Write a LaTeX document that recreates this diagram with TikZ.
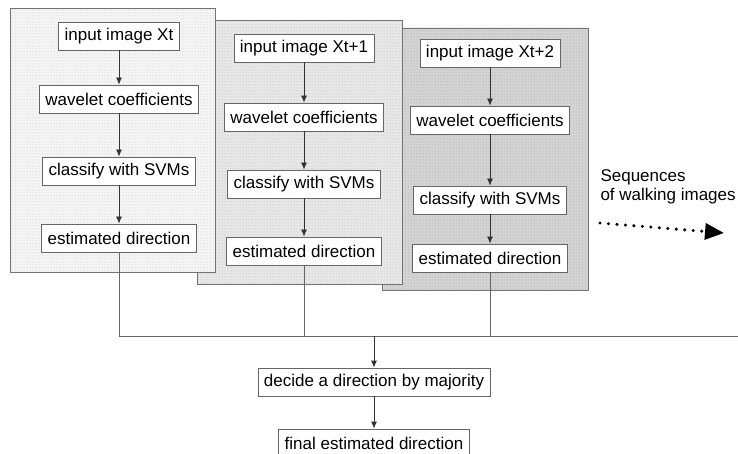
\documentclass[tikz,border=0pt]{standalone}
\usepackage{fontspec}
\setmainfont{Liberation Sans}
\usetikzlibrary{arrows.meta,patterns}
\tikzset{
  stage/.style={draw=black!60, fill=white, line width=0.8pt, font=\fontsize{17}{19}\selectfont, minimum height=28pt, inner xsep=6pt},
  panel/.style={draw=black!55, line width=0.8pt},
  flow/.style={draw=black!80, line width=0.8pt, -{Latex[length=7pt,width=6pt]}},
  bus/.style={draw=black!60, line width=0.8pt}
}

\begin{document}
\begin{tikzpicture}[x=1pt,y=-1pt]
\useasboundingbox (0,0) rectangle (738,454);
\clip (0,0) rectangle (738,454);

% the three frames, last one at the back
    \fill[black!17] (382,28) rectangle (588,290);
    \path[panel, pattern=dots, pattern color=black!40] (382,28) rectangle (588,290);
    \fill[black!9] (197,20) rectangle (402,284);
    \path[panel, pattern=dots, pattern color=black!32] (197,20) rectangle (402,284);
    \fill[black!4] (10,8) rectangle (215,272);
    \path[panel, pattern=dots, pattern color=black!26] (10,8) rectangle (215,272);

    \node[stage] (in1)  at (119,36)  {input image Xt};
    \node[stage] (wav1) at (119,99)  {wavelet coefficients};
    \node[stage] (cls1) at (119,171) {classify with SVMs};
    \node[stage] (est1) at (119,238) {estimated direction};

    \node[stage] (in2)  at (304,48)  {input image Xt+1};
    \node[stage] (wav2) at (304,117) {wavelet coefficients};
    \node[stage] (cls2) at (304,184) {classify with SVMs};
    \node[stage] (est2) at (304,251) {estimated direction};

    \node[stage] (in3)  at (490,53)  {input image Xt+2};
    \node[stage] (wav3) at (490,120) {wavelet coefficients};
    \node[stage] (cls3) at (490,200) {classify with SVMs};
    \node[stage] (est3) at (490,258) {estimated direction};

    \foreach \i in {1,2,3} {
        \draw[flow] (in\i) -- (wav\i);
        \draw[flow] (wav\i) -- (cls\i);
        \draw[flow] (cls\i) -- (est\i);
    }

\coordinate (busL) at (119,336);
\coordinate (busR) at (738,336);
    \draw[bus] (busL) -- (busR);
    \foreach \i in {1,2,3}
        \draw[bus] (est\i) -- (est\i |- busL);

    \node[stage] (vote)  at (374,382) {decide a direction by majority};
    \node[stage] (final) at (374,443) {final estimated direction};
    \draw[flow] (vote |- busL) -- (vote);
    \draw[flow] (vote) -- (final);

    \node[font=\fontsize{17}{19}\selectfont, align=left, anchor=north west] (seq) at (597,166) {Sequences\\of walking images};
\coordinate (walkA) at (600,223);
\coordinate (walkB) at (724,233);
    \draw[line width=3.4pt, dash pattern=on 0pt off 8.5pt, line cap=round, -{Triangle[length=19pt,width=16pt]}] (walkA) -- (walkB);
    %\draw[dotted] (in1) -- (in3);
\end{tikzpicture}
\end{document}
